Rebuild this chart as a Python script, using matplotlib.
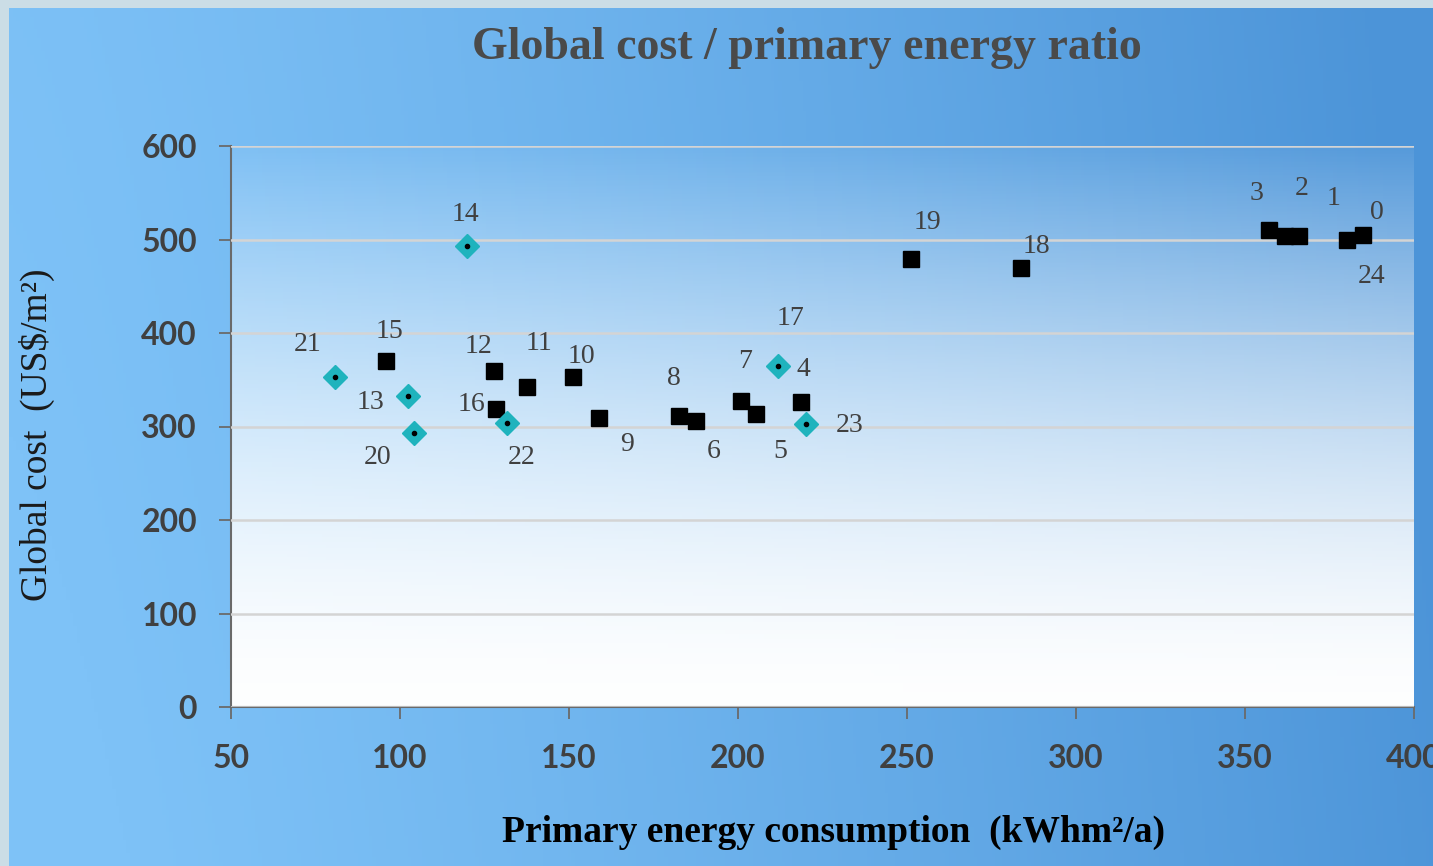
import numpy as np
import matplotlib
matplotlib.use("Agg")
import matplotlib.pyplot as plt

# --- data -------------------------------------------------------------
# building variants: black squares
sq_names = ["0", "1", "2", "24", "3", "4", "5", "6", "7", "8", "9",
            "10", "11", "12", "15", "16", "18", "19"]
sq_energy = [384.9, 380.2, 366.0, 361.8, 357.1, 218.6, 205.3, 187.6, 200.9,
             182.5, 158.9, 151.2, 137.6, 127.8, 95.9, 128.4, 283.7, 251.2]
sq_cost = [505, 499.5, 504, 503.7, 510, 326, 313, 306, 327,
           311, 309, 353, 342, 359, 370, 318.7, 469.5, 479]

# variants shown as teal diamonds
dm_names = ["13", "14", "17", "20", "21", "22", "23"]
dm_energy = [102.4, 119.8, 211.8, 104.1, 80.8, 131.7, 220.1]
dm_cost = [332.6, 493, 364.7, 293, 353, 303.7, 302.7]

x_ticks = [50, 100, 150, 200, 250, 300, 350, 400]
y_ticks = [0, 100, 200, 300, 400, 500, 600]

# label offsets (pixels) for each point label
label_offset = {
    "0": (14, 22), "1": (-14, 41), "2": (3, 47), "24": (87, -40), "3": (-12, 37),
    "4": (3, 33), "5": (24, -37), "6": (18, -31), "7": (4, 40), "8": (-5, 38),
    "9": (28, -26), "10": (8, 20), "11": (12, 44), "12": (-15, 25), "15": (3, 30),
    "16": (-25, 5), "18": (16, 22), "19": (16, 37),
    "13": (-38, -6), "14": (-2, 32), "17": (13, 48), "20": (-36, -24),
    "21": (-27, 32), "22": (14, -34), "23": (44, -2),
}

W, H = 1433, 866
fig = plt.figure(figsize=(W / 100, H / 100), dpi=100)
fig.patch.set_facecolor("#cbdde6")

# blue panel behind everything
bg = fig.add_axes([9 / W, 0, 1 - 9 / W, 1 - 8 / H], zorder=-2)
bg.set_axis_off()
gx = np.linspace(0, 1, 400)[None, :]
gy = np.linspace(0, 1, 200)[:, None]
c_left = np.array([0x7e, 0xc2, 0xf7]) / 255
c_right = np.array([0x4c, 0x94, 0xd8]) / 255
t = np.clip(gx ** 1.3 + 0.08 * (gy - 0.5), 0, 1)
grad = c_left[None, None, :] * (1 - t[..., None]) + c_right[None, None, :] * t[..., None]
bg.imshow(grad, aspect="auto", extent=[0, 1, 0, 1], origin="lower")

ax = fig.add_axes([231 / W, 1 - 707 / H, (1414 - 231) / W, (707 - 146) / H])
ax.set_facecolor("none")
ax.set_xlim(50, 400)
ax.set_ylim(0, 600)

# white fade toward the bottom of the plot area
fy = np.linspace(0, 1, 300)[:, None]
alpha = 1 - 0.94 * fy ** 1.5
fade = np.ones((300, 2, 4))
fade[..., 3] = alpha
ax.imshow(fade, aspect="auto", extent=[50, 400, 0, 600], origin="lower", zorder=0)

ax.set_yticks(y_ticks)
ax.set_xticks(x_ticks)
ax.grid(axis="y", color="#d4d4d4", lw=1.8, zorder=1)
ax.set_axisbelow(False)
for s in ["top", "right"]:
    ax.spines[s].set_visible(False)
for s in ["left", "bottom"]:
    ax.spines[s].set_color("#6a6a6a")
    ax.spines[s].set_linewidth(1.5)
    ax.spines[s].set_zorder(2)

ax.tick_params(axis="both", direction="out", length=8.5, width=1.3, color="#6a6a6a",
               labelcolor="#404040", labelsize=23)
ax.tick_params(axis="y", pad=16)
ax.tick_params(axis="x", pad=18)
for lab in ax.get_xticklabels() + ax.get_yticklabels():
    lab.set_fontfamily("Lato")
    lab.set_fontweight("bold")

ax.plot(sq_energy, sq_cost, "s", ms=12, color="black", ls="none", zorder=3)
ax.plot(dm_energy, dm_cost, "D", ms=12, color="#1fb3bd", ls="none", zorder=3)
ax.plot(dm_energy, dm_cost, "o", ms=3, color="black", ls="none", zorder=4)

for names, xs, ys in [(sq_names, sq_energy, sq_cost), (dm_names, dm_energy, dm_cost)]:
    for n, x, y in zip(names, xs, ys):
        dx, dy = label_offset[n]
        ax.annotate(n, (x, y), xytext=(dx, dy), textcoords="offset pixels",
                    ha="center", va="center", fontsize=20,
                    family="Liberation Serif", color="#404040", zorder=5)

fig.text(807 / W, 1 - 48 / H, "Global cost / primary energy ratio",
         ha="center", va="center", fontsize=33, fontweight="bold",
         family="Liberation Serif", color="#4a4a4a")
fig.text(833 / W, 1 - 832 / H, "Primary energy consumption  (kWhm²/a)",
         ha="center", va="center", fontsize=27, fontweight="bold",
         family="Liberation Serif", color="black")
fig.text(37 / W, 1 - 435 / H, "Global cost  (US$/m²)", rotation=90,
         ha="center", va="center", fontsize=27,
         family="Liberation Serif", color="#1a1a1a")

fig.savefig("out.png", dpi=100)
